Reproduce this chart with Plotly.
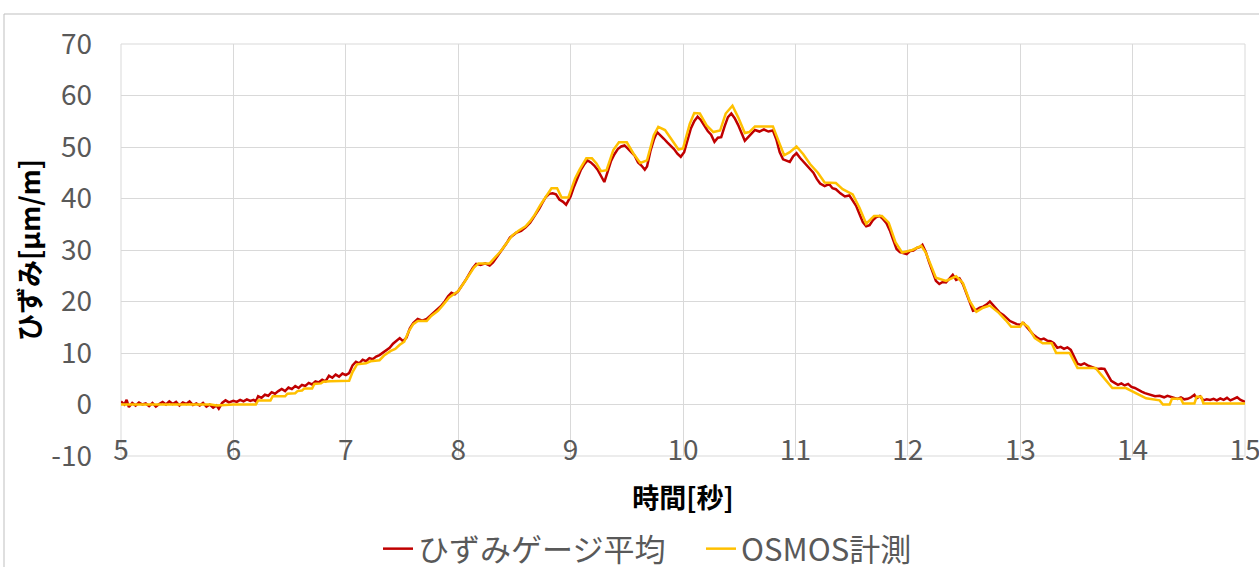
import plotly.graph_objects as go

# ひずみゲージ平均 (strain gauge average), time [s] vs strain [µm/m]
gauge_t = [
    5.00, 5.03, 5.05, 5.07, 5.10, 5.13, 5.16, 5.19, 5.22, 5.25, 5.28, 5.31, 5.34, 5.37, 5.40,
    5.43, 5.46, 5.49, 5.52, 5.55, 5.58, 5.61, 5.64, 5.67, 5.70, 5.73, 5.76, 5.79, 5.82, 5.85,
    5.87, 5.90, 5.93, 5.96, 6.00, 6.03, 6.06, 6.09, 6.12, 6.15, 6.18, 6.20, 6.22, 6.25, 6.28,
    6.31, 6.34, 6.37, 6.40, 6.43, 6.46, 6.49, 6.52, 6.55, 6.58, 6.61, 6.64, 6.67, 6.70, 6.73,
    6.76, 6.79, 6.82, 6.85, 6.88, 6.91, 6.94, 6.97, 7.00, 7.03, 7.06, 7.09, 7.12, 7.15, 7.18,
    7.21, 7.24, 7.27, 7.30, 7.33, 7.36, 7.39, 7.42, 7.45, 7.48, 7.51, 7.54, 7.57, 7.60, 7.64,
    7.68, 7.72, 7.75, 7.78, 7.82, 7.85, 7.88, 7.91, 7.94, 7.97, 8.00, 8.04, 8.07, 8.10, 8.13,
    8.16, 8.20, 8.24, 8.28, 8.31, 8.34, 8.37, 8.40, 8.43, 8.46, 8.49, 8.52, 8.56, 8.60, 8.64,
    8.68, 8.72, 8.75, 8.78, 8.81, 8.84, 8.87, 8.90, 8.93, 8.96, 8.98, 9.00, 9.03, 9.06, 9.09,
    9.12, 9.15, 9.18, 9.21, 9.24, 9.27, 9.30, 9.33, 9.36, 9.39, 9.42, 9.45, 9.48, 9.51, 9.54,
    9.57, 9.60, 9.63, 9.66, 9.68, 9.71, 9.74, 9.77, 9.80, 9.83, 9.86, 9.89, 9.92, 9.95, 9.98,
    10.01, 10.04, 10.07, 10.10, 10.13, 10.16, 10.19, 10.22, 10.25, 10.28, 10.31, 10.34, 10.37, 10.40, 10.43,
    10.46, 10.49, 10.52, 10.55, 10.58, 10.61, 10.64, 10.68, 10.72, 10.76, 10.80, 10.83, 10.86, 10.89, 10.92,
    10.95, 10.98, 11.01, 11.04, 11.07, 11.10, 11.13, 11.16, 11.19, 11.22, 11.26, 11.30, 11.33, 11.36, 11.40,
    11.44, 11.48, 11.51, 11.54, 11.57, 11.60, 11.63, 11.66, 11.69, 11.72, 11.75, 11.78, 11.81, 11.84, 11.87,
    11.90, 11.93, 11.96, 11.99, 12.02, 12.05, 12.08, 12.11, 12.13, 12.16, 12.19, 12.22, 12.25, 12.28, 12.31,
    12.34, 12.37, 12.40, 12.43, 12.46, 12.49, 12.52, 12.55, 12.58, 12.61, 12.64, 12.67, 12.70, 12.73, 12.76,
    12.79, 12.82, 12.85, 12.88, 12.91, 12.94, 12.97, 13.00, 13.03, 13.06, 13.09, 13.12, 13.15, 13.18, 13.21,
    13.24, 13.27, 13.30, 13.33, 13.36, 13.39, 13.42, 13.45, 13.48, 13.51, 13.54, 13.57, 13.60, 13.63, 13.66,
    13.69, 13.72, 13.75, 13.78, 13.81, 13.84, 13.87, 13.90, 13.93, 13.96, 13.99, 14.02, 14.05, 14.08, 14.11,
    14.14, 14.17, 14.20, 14.24, 14.28, 14.31, 14.34, 14.37, 14.40, 14.43, 14.46, 14.49, 14.52, 14.55, 14.57,
    14.60, 14.63, 14.66, 14.69, 14.72, 14.75, 14.78, 14.81, 14.84, 14.87, 14.90, 14.93, 14.96, 15.00,
]
gauge_strain = [
    0.6, 0.0, 0.9, -0.5, 0.3, -0.2, 0.4, 0.0, 0.2, -0.3, 0.3, -0.4, 0.1, 0.5, 0.0,
    0.6, 0.1, 0.5, -0.2, 0.4, 0.1, 0.6, -0.1, 0.2, -0.2, 0.3, -0.4, 0.0, -0.6, -0.2,
    -0.8, 0.3, 0.8, 0.4, 0.7, 0.5, 0.9, 0.6, 1.0, 0.7, 0.9, 0.6, 1.6, 1.3, 1.9,
    1.7, 2.4, 2.1, 2.6, 3.0, 2.6, 3.3, 3.0, 3.6, 3.2, 3.8, 3.6, 4.2, 3.9, 4.5,
    4.3, 4.8, 4.5, 5.6, 5.2, 5.8, 5.4, 6.0, 5.7, 6.1, 7.6, 8.3, 8.0, 8.7, 8.4,
    9.0, 8.8, 9.3, 9.6, 10.1, 10.6, 11.0, 11.8, 12.4, 12.9, 12.3, 13.0, 14.8, 15.8, 16.6,
    16.3, 16.6, 17.2, 17.8, 18.6, 19.2, 20.0, 21.0, 21.7, 21.4, 22.0, 23.2, 24.3, 25.4, 26.5,
    27.3, 27.1, 27.4, 27.0, 27.6, 28.5, 29.4, 30.3, 31.3, 32.4, 32.9, 33.4, 33.7, 34.4, 35.3,
    36.6, 38.0, 39.2, 40.3, 40.9, 41.0, 40.8, 39.8, 39.4, 38.8, 39.6, 40.4, 42.3, 44.0, 45.5,
    46.6, 47.4, 47.0, 46.4, 45.6, 44.5, 43.2, 45.2, 47.3, 48.6, 49.6, 50.1, 50.3, 49.7, 48.9,
    48.3, 47.0, 46.4, 45.6, 46.2, 49.2, 51.4, 52.9, 52.3, 51.6, 50.9, 50.3, 49.6, 48.7, 48.1,
    49.0, 51.3, 53.6, 55.0, 55.9, 55.2, 54.0, 53.1, 52.4, 51.0, 51.8, 51.9, 54.0, 55.8, 56.5,
    55.6, 54.3, 52.8, 51.2, 51.9, 52.6, 53.3, 53.0, 53.4, 53.0, 53.2, 51.5, 49.0, 47.6, 47.3,
    47.1, 48.2, 48.8, 47.9, 47.2, 46.4, 45.8, 45.0, 43.8, 42.9, 42.4, 42.8, 42.0, 41.8, 41.0,
    40.4, 40.6, 39.6, 38.6, 37.0, 35.4, 34.6, 34.8, 35.8, 36.4, 36.6, 36.0, 35.2, 33.8, 32.0,
    30.2, 29.6, 29.4, 29.2, 29.8, 29.9, 30.4, 30.6, 31.0, 29.6, 27.6, 25.6, 24.0, 23.4, 23.8,
    23.7, 24.4, 25.2, 24.2, 24.5, 23.4, 21.6, 19.8, 18.2, 18.4, 18.8, 19.0, 19.4, 20.0, 19.2,
    18.4, 17.8, 17.4, 16.8, 16.2, 15.9, 15.6, 15.5, 15.8, 15.0, 14.2, 13.5, 13.0, 12.6, 12.8,
    12.4, 12.3, 11.9, 11.0, 11.2, 10.8, 11.1, 10.6, 9.2, 7.9, 7.7, 8.0, 7.6, 7.3, 7.1,
    6.9, 7.0, 6.9, 5.8, 4.6, 4.2, 3.8, 4.1, 3.7, 4.0, 3.4, 3.2, 2.8, 2.5, 2.2,
    2.0, 1.8, 1.6, 1.7, 1.4, 1.7, 1.5, 1.3, 1.1, 1.4, 1.0, 1.1, 1.4, 1.9, 1.2,
    1.6, 0.8, 1.0, 0.9, 1.1, 0.8, 1.2, 0.9, 1.3, 0.8, 1.1, 1.4, 0.9, 0.5,
]

# OSMOS計測 (OSMOS optical strand measurement)
osmos_t = [
    5.00, 5.80, 5.85, 6.00, 6.20, 6.22, 6.33, 6.35, 6.46, 6.48, 6.55, 6.57, 6.61, 6.63, 6.70,
    6.72, 6.78, 6.80, 6.86, 7.03, 7.06, 7.10, 7.18, 7.22, 7.30, 7.34, 7.40, 7.44, 7.48, 7.52,
    7.56, 7.60, 7.64, 7.72, 7.76, 7.82, 7.86, 7.92, 7.96, 8.00, 8.05, 8.10, 8.14, 8.18, 8.28,
    8.33, 8.38, 8.42, 8.48, 8.54, 8.60, 8.64, 8.68, 8.73, 8.79, 8.83, 8.88, 8.92, 8.98, 9.04,
    9.08, 9.14, 9.19, 9.23, 9.27, 9.32, 9.38, 9.43, 9.50, 9.56, 9.62, 9.68, 9.74, 9.78, 9.84,
    9.90, 9.96, 10.00, 10.06, 10.10, 10.15, 10.21, 10.27, 10.33, 10.38, 10.44, 10.49, 10.55, 10.59, 10.64,
    10.80, 10.86, 10.90, 10.95, 11.01, 11.07, 11.13, 11.20, 11.26, 11.36, 11.42, 11.51, 11.57, 11.63, 11.70,
    11.77, 11.83, 11.89, 11.95, 12.04, 12.12, 12.16, 12.25, 12.34, 12.43, 12.49, 12.55, 12.61, 12.67, 12.73,
    12.81, 12.87, 12.92, 13.00, 13.02, 13.07, 13.13, 13.20, 13.28, 13.32, 13.44, 13.51, 13.67, 13.72, 13.76,
    13.82, 13.94, 14.03, 14.12, 14.24, 14.27, 14.33, 14.35, 14.43, 14.45, 14.55, 14.57, 14.61, 14.63, 15.00,
]
osmos_strain = [
    0.0, 0.0, -0.2, 0.0, 0.0, 0.8, 0.8, 1.6, 1.6, 2.1, 2.2, 2.6, 2.7, 3.1, 3.1,
    4.0, 4.1, 4.4, 4.5, 4.6, 6.3, 7.8, 8.0, 8.4, 8.6, 9.5, 10.4, 10.8, 11.6, 12.2,
    14.2, 15.6, 16.2, 16.2, 17.2, 18.2, 19.2, 20.8, 21.4, 22.0, 23.6, 25.4, 26.6, 27.4, 27.4,
    28.6, 29.8, 31.0, 32.8, 33.8, 34.6, 35.6, 36.8, 38.7, 40.6, 42.0, 42.0, 40.2, 40.2, 43.9,
    45.6, 47.8, 47.8, 46.8, 45.3, 45.5, 49.4, 50.9, 50.9, 48.7, 46.9, 47.4, 52.3, 53.9, 53.3,
    51.3, 49.5, 49.7, 54.5, 56.6, 56.5, 54.2, 52.9, 53.2, 56.5, 58.0, 55.8, 52.7, 52.9, 54.0,
    54.0, 50.6, 48.4, 49.0, 50.1, 48.6, 46.7, 45.0, 43.1, 43.0, 41.8, 40.8, 38.2, 35.1, 36.6,
    36.6, 35.3, 31.5, 29.5, 30.0, 30.8, 29.5, 24.6, 24.0, 24.9, 23.6, 20.1, 18.0, 18.8, 19.2,
    17.8, 16.4, 15.1, 15.1, 15.9, 15.1, 12.9, 11.9, 11.9, 10.0, 10.0, 7.1, 7.1, 5.8, 4.8,
    3.2, 3.2, 2.2, 1.2, 0.8, 0.0, 0.0, 1.1, 1.1, 0.2, 0.2, 1.5, 1.5, 0.2, 0.2,
]

x_ticks = [5, 6, 7, 8, 9, 10, 11, 12, 13, 14, 15]
y_ticks = [-10, 0, 10, 20, 30, 40, 50, 60, 70]
y_range = [-10, 70]

FONT = "Noto Sans CJK JP"
GRID = "#d9d9d9"
TEXT_GRAY = "#595959"

fig = go.Figure()
fig.add_trace(go.Scatter(
    x=gauge_t, y=gauge_strain, mode="lines", name="ひずみゲージ平均",
    line=dict(color="#C00000", width=2.5),
))
fig.add_trace(go.Scatter(
    x=osmos_t, y=osmos_strain, mode="lines", name="OSMOS計測",
    line=dict(color="#FFC000", width=2.5),
))

ml, mr, mt, mb = 121, 14, 44, 111
W, H = 1259, 567
pw, ph = W - ml - mr, H - mt - mb

def px_to_paper_x(px):
    return (px - ml) / pw

def px_to_paper_y(py):
    return (H - mb - py) / ph

# outer chart-area frame
fig.add_shape(
    type="rect", xref="paper", yref="paper",
    x0=px_to_paper_x(4), x1=px_to_paper_x(1300),
    y0=px_to_paper_y(620), y1=px_to_paper_y(14),
    line=dict(color="#bfbfbf", width=1), fillcolor="rgba(0,0,0,0)", layer="below",
)
# plot-area border
fig.add_shape(
    type="rect", xref="x domain", yref="y domain", x0=0, x1=1, y0=0, y1=1,
    line=dict(color=GRID, width=1), fillcolor="rgba(0,0,0,0)", layer="below",
)

# horizontal axis crosses the vertical one at 0
x_axis_pos = (0 - y_range[0]) / (y_range[1] - y_range[0])

fig.update_layout(
    width=W, height=H,
    margin=dict(l=ml, r=mr, t=mt, b=mb, pad=0, autoexpand=False),
    paper_bgcolor="white", plot_bgcolor="white",
    font=dict(family=FONT, color=TEXT_GRAY),
    showlegend=True,
    legend=dict(
        orientation="h", x=px_to_paper_x(378), xanchor="left",
        y=px_to_paper_y(549), yanchor="middle",
        font=dict(size=31, color=TEXT_GRAY, family=FONT),
        itemwidth=30, entrywidth=278, entrywidthmode="pixels",
        bgcolor="rgba(0,0,0,0)",
    ),
    xaxis=dict(
        range=[5, 15], tickvals=x_ticks, ticktext=[str(v) for v in x_ticks],
        anchor="free", position=x_axis_pos,
        showgrid=True, gridcolor=GRID, gridwidth=1,
        showline=False, zeroline=False, ticks="",
        ticklabelstandoff=26, ticklabeloverflow="allow", automargin=False,
        tickfont=dict(size=28, color=TEXT_GRAY, family=FONT),
        title=dict(text="<b>時間[秒]</b>", font=dict(size=27, color="black", family=FONT), standoff=22),
    ),
    yaxis=dict(
        range=y_range, tickvals=y_ticks, ticktext=[str(v) for v in y_ticks],
        showgrid=True, gridcolor=GRID, gridwidth=1,
        showline=False,
        zeroline=True, zerolinecolor=GRID, zerolinewidth=1,
        ticks="", ticklabelstandoff=28, automargin=False,
        tickfont=dict(size=28, color=TEXT_GRAY, family=FONT),
        title=dict(text="<b>ひずみ[μm/m]</b>", font=dict(size=27, color="black", family=FONT), standoff=2),
    ),
)

fig.write_html("out.html")
